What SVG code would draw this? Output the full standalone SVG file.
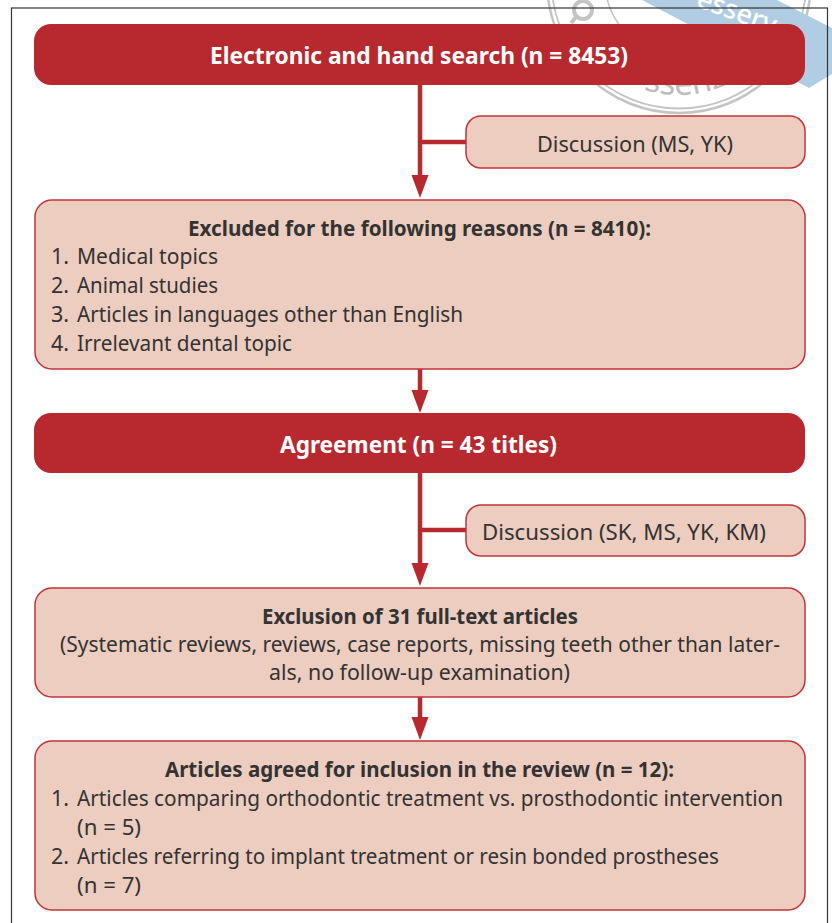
<svg xmlns="http://www.w3.org/2000/svg" width="832" height="923" viewBox="0 0 832 923">
<style>
text{font-family:"Noto Sans","Open Sans","DejaVu Sans",sans-serif;fill:#333;font-size:21.500px}
.h{font-weight:700;font-size:23.500px;fill:#fff}
.b{font-weight:700;font-size:20.800px}
.dark{fill:#b7292f}
.light{fill:#eccdbf;stroke:#c1343a;stroke-width:1.500}
.conn{stroke:#b7292f;stroke-width:4.500;fill:none}
.arrow{fill:#b7292f;stroke:none}
.ring{fill:none;stroke:#c4c4c4}
</style>
<defs>
<marker id="ah" markerUnits="userSpaceOnUse" markerWidth="24" markerHeight="18" refX="5" refY="9" orient="auto"><path class="arrow" d="M0 0.500L23 9L0 17.500Z"/></marker>
<path id="arc" d="M565 -19A114 114 0 0 0 793 -19"/>
</defs>
<g id="watermark">
<circle class="ring" cx="679" cy="-19" r="132" stroke-width="2.500"/>
<circle class="ring" cx="679" cy="-19" r="127.500" stroke-width="1.800"/>
<circle class="ring" cx="679" cy="-19" r="74" stroke-width="1.500"/>
<circle class="ring" cx="583" cy="10" r="9" stroke-width="4"/>
<path class="ring" d="M576 17L571 23" stroke-width="4"/>
<path d="M642 0L809 88L832 74V28L777 0Z" fill="#b0cde3"/>
<text transform="translate(695 6) rotate(20)" style="fill:#fff;font-size:27px;font-weight:500">esserv</text>
<text style="fill:#bdbdbd;font-size:33px;text-anchor:middle"><textPath href="#arc" startOffset="52%">ssenz</textPath></text>
</g>
<rect id="frame" x="11.500" y="8" width="816" height="930" fill="none" stroke="#333" stroke-width="1.200"/>
<g id="connectors">
<path class="conn" d="M420 85V180" marker-end="url(#ah)"/>
<path class="conn" d="M420 142H466"/>
<path class="conn" d="M420 369V395" marker-end="url(#ah)"/>
<path class="conn" d="M420 473V568" marker-end="url(#ah)"/>
<path class="conn" d="M420 530H466"/>
<path class="conn" d="M420 697V722" marker-end="url(#ah)"/>
</g>
<g id="n1"><rect class="dark" x="34" y="24" width="771" height="61" rx="17"/><text class="h" x="210" y="64" textLength="418" lengthAdjust="spacingAndGlyphs">Electronic and hand search (n = 8453)</text></g>
<g id="n2"><rect class="light" x="466" y="116" width="339" height="52" rx="15"/><text x="537" y="152" textLength="196" lengthAdjust="spacingAndGlyphs">Discussion (MS, YK)</text></g>
<g id="n3"><rect class="light" x="35" y="200" width="770" height="169" rx="17"/>
<text class="b" x="188" y="236" textLength="463" lengthAdjust="spacingAndGlyphs">Excluded for the following reasons (n = 8410):</text>
<text x="51" y="264">1.</text><text x="77" y="264" textLength="141" lengthAdjust="spacingAndGlyphs">Medical topics</text>
<text x="51" y="293">2.</text><text x="77" y="293" textLength="141" lengthAdjust="spacingAndGlyphs">Animal studies</text>
<text x="51" y="322">3.</text><text x="77" y="322" textLength="386" lengthAdjust="spacingAndGlyphs">Articles in languages other than English</text>
<text x="51" y="351">4.</text><text x="77" y="351" textLength="215" lengthAdjust="spacingAndGlyphs">Irrelevant dental topic</text></g>
<g id="n4"><rect class="dark" x="34" y="413" width="771" height="60" rx="17"/><text class="h" x="280" y="453" textLength="277" lengthAdjust="spacingAndGlyphs">Agreement (n = 43 titles)</text></g>
<g id="n5"><rect class="light" x="466" y="505" width="339" height="51" rx="15"/><text x="482" y="540" textLength="284" lengthAdjust="spacingAndGlyphs">Discussion (SK, MS, YK, KM)</text></g>
<g id="n6"><rect class="light" x="35" y="588" width="770" height="109" rx="17"/>
<text class="b" x="262" y="624" textLength="316" lengthAdjust="spacingAndGlyphs">Exclusion of 31 full-text articles</text>
<text x="60" y="652" textLength="720" lengthAdjust="spacingAndGlyphs">(Systematic reviews, reviews, case reports, missing teeth other than later-</text>
<text x="269" y="680" textLength="301" lengthAdjust="spacingAndGlyphs">als, no follow-up examination)</text></g>
<g id="n7"><rect class="light" x="35" y="741" width="770" height="169" rx="17"/>
<text class="b" x="165" y="777" textLength="509" lengthAdjust="spacingAndGlyphs">Articles agreed for inclusion in the review (n = 12):</text>
<text x="51" y="806">1.</text><text x="77" y="806" textLength="706" lengthAdjust="spacingAndGlyphs">Articles comparing orthodontic treatment vs. prosthodontic intervention</text>
<text x="77" y="835" textLength="64" lengthAdjust="spacingAndGlyphs">(n = 5)</text>
<text x="51" y="864">2.</text><text x="77" y="864" textLength="642" lengthAdjust="spacingAndGlyphs">Articles referring to implant treatment or resin bonded prostheses</text>
<text x="77" y="893" textLength="64" lengthAdjust="spacingAndGlyphs">(n = 7)</text></g>
</svg>
